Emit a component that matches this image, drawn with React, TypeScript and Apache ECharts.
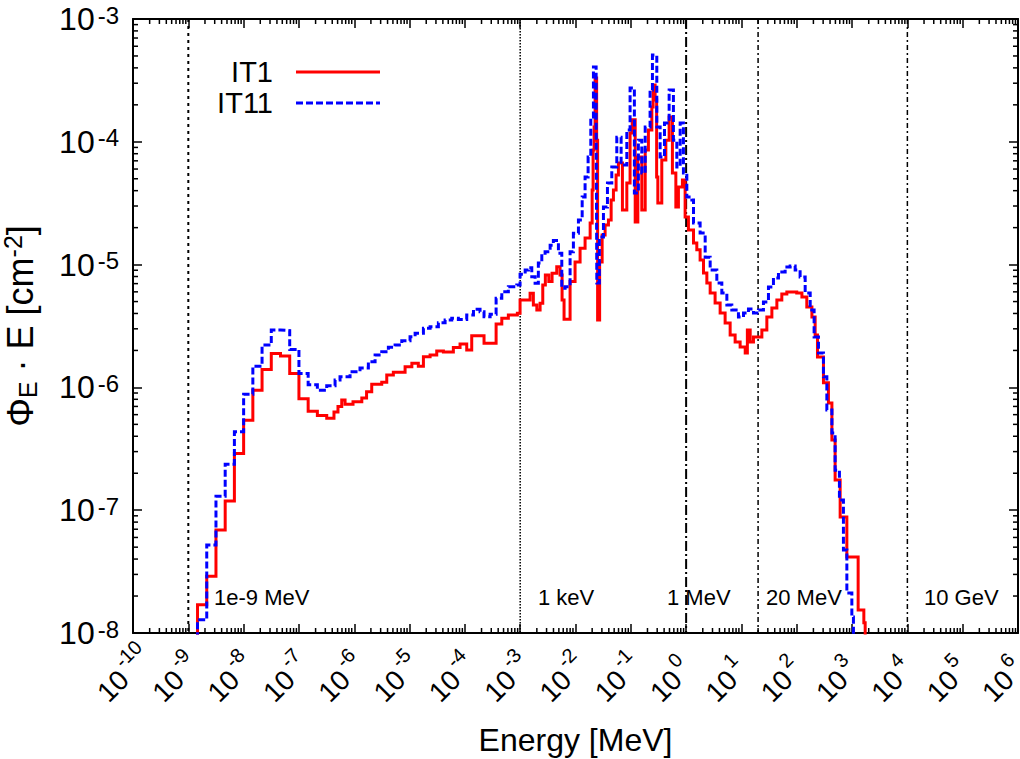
import React, { useEffect, useRef } from "react";
import * as echarts from "echarts";

const FONT = "Liberation Sans";

// ---- data (energy in MeV = lower bin edge, flux Φ_E·E in cm^-2) ----
const energyIT1 = [
  1e-9, 1.468e-9, 2.154e-9, 3.162e-9, 4.642e-9, 6.81e-9,
  1e-8, 1.468e-8, 2.154e-8, 3.162e-8, 4.642e-8, 6.81e-8,
  1e-7, 1.468e-7, 2.154e-7,
  3.18e-7, 4.3e-7, 5.08e-7, 5.94e-7, 6.82e-7, 9.5e-7, 1.37e-6, 1.67e-6, 2.07e-6, 3.14e-6,
  3.87e-6, 5.09e-6, 8.3e-6, 1.1e-5, 1.44e-5, 1.78e-5, 2.35e-5, 3.1e-5, 4.09e-5, 6.19e-5,
  8.18e-5, 1.08e-4, 1.33e-4, 2.22e-4, 3.67e-4, 4.65e-4, 6.11e-4, 8.89e-4, 9.95e-4,
  1.51e-3, 1.73e-3, 2.0e-3, 2.29e-3, 2.56e-3, 2.85e-3, 3.29e-3, 3.77e-3, 4.58e-3, 5.26e-3,
  5.72e-3, 6.21e-3, 7.98e-3, 9.82e-3, 1.21e-2, 1.49e-2, 1.84e-2,
  2.0e-2, 2.08e-2, 2.17e-2, 2.26e-2, 2.41e-2, 2.51e-2, 2.73e-2, 3.03e-2, 3.43e-2, 3.94e-2,
  4.41e-2, 4.85e-2, 5.42e-2, 5.97e-2, 7.05e-2, 8.47e-2, 9.7e-2, 0.106, 0.12, 0.134, 0.158,
  0.182, 0.208, 0.24, 0.253, 0.275, 0.293, 0.308, 0.363, 0.43, 0.493, 0.565, 0.652, 0.726,
  0.857, 0.959,
  1.1, 1.36, 1.56, 1.79, 2.06, 2.37, 2.72, 3.34, 4.12, 5.07, 6.25, 7.69, 9.47, 11.7, 12.8,
  14.4, 16.5, 23.4, 28.8, 35.5, 43.7, 53.7, 66.2, 100, 124, 152, 188, 215, 237, 304, 374,
  432, 494, 609, 805, 1288, 1633, 1726,
];
const fluxIT1 = [
  5e-9, 1.7e-8, 2.9e-8, 6.9e-8, 1.19e-7, 2.9e-7,
  5.4e-7, 9.5e-7, 1.4e-6, 1.89e-6, 1.8e-6, 1.3e-6,
  8.1e-7, 6.4e-7, 5.9e-7,
  5.6e-7, 6.3e-7, 7.0e-7, 7.9e-7, 7.3e-7, 7.65e-7, 8.2e-7, 9.2e-7, 1.06e-6, 1.1e-6,
  1.26e-6, 1.33e-6, 1.47e-6, 1.57e-6, 1.49e-6, 1.78e-6, 1.84e-6, 1.98e-6, 1.94e-6, 2.11e-6,
  2.26e-6, 2.02e-6, 2.64e-6, 2.29e-6, 3.28e-6, 3.66e-6, 3.89e-6, 4.01e-6, 5.15e-6,
  5.85e-6, 4.69e-6, 4.27e-6, 4.84e-6, 6.83e-6, 8.22e-6, 7.27e-6, 8.5e-6, 9.6e-6, 8.22e-6,
  5.15e-6, 3.59e-6, 7.27e-6, 1.05e-5, 1.36e-5, 1.65e-5, 2.18e-5,
  4.05e-5, 8.58e-5, 1.32e-4, 3.31e-4, 1.03e-4, 3.54e-6, 1.05e-5, 1.74e-5, 2.1e-5, 2.31e-5,
  3.36e-5, 4.05e-5, 5.37e-5, 6.72e-5, 2.79e-5, 4.62e-5, 1.18e-4, 1.51e-4, 2.22e-5, 7.52e-5, 2.79e-5,
  8.58e-5, 1.25e-4, 1.92e-4, 2.9e-4, 2.19e-4, 5.17e-5, 3.18e-5, 7.11e-5, 1.03e-4, 1.59e-4, 5.57e-5, 2.94e-5, 4.29e-5,
  4.89e-5, 2.44e-5,
  1.91e-5, 1.5e-5, 1.32e-5, 1.09e-5, 8.55e-6, 7.08e-6, 5.87e-6, 4.87e-6, 4.03e-6, 3.34e-6, 2.67e-6, 2.34e-6, 2.13e-6, 1.91e-6, 2.93e-6,
  2.34e-6, 2.57e-6, 2.93e-6, 3.74e-6, 4.43e-6, 5.15e-6, 5.76e-6, 5.98e-6, 5.87e-6, 5.45e-6, 4.52e-6, 3.74e-6, 2.67e-6, 1.77e-6, 1.09e-6, 7.47e-7,
  3.73e-7, 1.76e-7, 8.81e-8, 4.16e-8, 1.54e-8, 1.21e-8, 5e-9,
];

const energyIT11 = [
  1e-9, 1.468e-9, 2.154e-9, 3.162e-9, 4.642e-9, 6.81e-9,
  1e-8, 1.468e-8, 2.154e-8, 3.162e-8, 4.642e-8, 6.81e-8,
  1e-7, 1.468e-7, 2.154e-7,
  3.18e-7, 4.5e-7, 5.53e-7, 8.4e-7, 1.27e-6, 1.8e-6, 2.38e-6, 3.14e-6, 4.14e-6, 5.47e-6,
  7.23e-6, 1.02e-5, 1.26e-5, 1.78e-5, 2.35e-5, 3.32e-5, 4.39e-5, 5.79e-5, 7.62e-5, 1.08e-4,
  1.43e-4, 1.88e-4, 2.22e-4, 2.86e-4, 3.67e-4, 4.65e-4, 6.11e-4, 8.67e-4, 9.95e-4,
  1.23e-3, 1.41e-3, 1.62e-3, 1.86e-3, 2.13e-3, 2.46e-3, 2.82e-3, 3.48e-3, 3.98e-3, 4.91e-3,
  5.65e-3, 6.49e-3, 7.98e-3, 9.16e-3, 1.13e-2, 1.32e-2, 1.49e-2, 1.69e-2, 1.89e-2, 2.11e-2,
  2.36e-2, 2.43e-2, 2.7e-2, 3.2e-2, 3.78e-2, 4.53e-2, 5.58e-2, 6.68e-2, 8.47e-2, 9.7e-2,
  0.116, 0.137, 0.158, 0.182, 0.223, 0.246, 0.295, 0.339, 0.406, 0.493, 0.589, 0.679, 0.78, 0.894,
  1.03, 1.27, 1.36, 1.79, 2.21, 2.72, 3.59, 4.42, 5.45, 6.7, 8.83, 10.9, 13.4, 16.5, 20.3,
  25.0, 30.8, 37.9, 46.7, 61.7, 76.0, 93.6, 115, 142, 175, 206, 247, 304, 350, 432, 494,
  591, 698, 805, 991, 1059,
];
const fluxIT11 = [
  5e-9, 1.28e-8, 5.2e-8, 1.3e-7, 2.37e-7, 4.36e-7,
  8.8e-7, 1.49e-6, 2.21e-6, 2.93e-6, 2.9e-6, 2.04e-6,
  1.3e-6, 1.05e-6, 9.5e-7,
  1.03e-6, 1.15e-6, 1.22e-6, 1.34e-6, 1.44e-6, 1.62e-6, 1.84e-6, 1.95e-6, 2.12e-6, 2.21e-6,
  2.4e-6, 2.59e-6, 2.76e-6, 3.03e-6, 3.12e-6, 3.36e-6, 3.54e-6, 3.66e-6, 3.58e-6, 3.89e-6,
  4.33e-6, 4.13e-6, 3.77e-6, 3.94e-6, 5.32e-6, 6.02e-6, 6.61e-6, 6.82e-6, 8.34e-6,
  9.04e-6, 9.44e-6, 7.96e-6, 7.05e-6, 1.03e-5, 1.24e-5, 1.27e-5, 1.44e-5, 1.57e-5, 1.24e-5,
  6.41e-6, 6.61e-6, 1.27e-5, 1.8e-5, 2.31e-5, 3.55e-5, 5.17e-5, 7.52e-5, 1.59e-4, 4.07e-4,
  1.59e-4, 7.08e-6, 1.68e-5, 2.94e-5, 4.62e-5, 6.23e-5, 1.09e-4, 6.47e-5, 1.25e-4, 2.74e-4,
  3.83e-5, 1.03e-4, 5.57e-5, 1.32e-4, 2.64e-4, 5.09e-4, 1.32e-4, 7.52e-5, 1.42e-4, 2.64e-4, 1.03e-4, 6.23e-5, 1.42e-4, 5.57e-5,
  3.55e-5, 3.36e-5, 2.18e-5, 1.81e-5, 1.15e-5, 9.04e-6, 7.08e-6, 5.87e-6, 4.69e-6, 4.27e-6, 3.74e-6, 4.03e-6, 4.35e-6, 4.03e-6, 4.27e-6,
  4.96e-6, 6.57e-6, 7.78e-6, 8.71e-6, 9.55e-6, 9.75e-6, 9.04e-6, 7.93e-6, 5.87e-6, 4.27e-6, 2.57e-6, 1.91e-6, 1.22e-6, 6.55e-7, 4.25e-7, 2.12e-7,
  1.21e-7, 4.74e-8, 2.12e-8, 1.35e-8, 5e-9,
];

// x tick labels are 10^k for these exponents
const xTickExponents = [-10, -9, -8, -7, -6, -5, -4, -3, -2, -1, 0, 1, 2, 3, 4, 5, 6];

// reference energies marked with vertical lines (MeV) and their captions
const markEnergies = [1e-9, 1e-3, 1, 20, 1e4];
const markCaptions = ["1e-9 MeV", "1 keV", "1 MeV", "20 MeV", "10 GeV"];
// style of each vertical line (width, dash pattern)
const markStyles = [
  { w: 2, dash: [3, 4] },
  { w: 1.5, dash: [1.5, 1.5] },
  { w: 2, dash: [10, 3, 2, 3] },
  { w: 1.5, dash: [5, 3, 2, 3] },
  { w: 1.5, dash: [5, 3, 2, 3] },
];

// axis ranges
const X_MIN = 1e-10, X_MAX = 1e6;
const Y_MIN = 1e-8, Y_MAX = 1e-3;

function zip(xs: number[], ys: number[]) {
  const n = Math.min(xs.length, ys.length);
  const out: number[][] = [];
  for (let i = 0; i < n; i++) out.push([xs[i], ys[i]]);
  return out;
}

function minorTickValues(minExp: number, maxExp: number) {
  const v: number[] = [];
  for (let e = minExp; e < maxExp; e++) for (let m = 2; m <= 9; m++) v.push(m * Math.pow(10, e));
  return v;
}

const expOf = (v: number) => Math.round(Math.log10(v));

export default function App() {
  const ref = useRef<HTMLDivElement>(null);

  useEffect(() => {
    const chart = echarts.init(ref.current!, null, { renderer: "svg" });

    const axisLineStyle = { lineStyle: { color: "#000", width: 2 } };
    const tickStyle = { show: true, inside: true, length: 9, interval: 0, lineStyle: { color: "#000", width: 1.5 } };

    const xMinor = minorTickValues(-10, 6).map((v) => [v, 1e-5]);
    const yMinor = minorTickValues(-8, -3).map((v) => [1, v]);
    const xLabelData = xTickExponents.map((k) => [Math.pow(10, k), 1e-5]);

    const tickColor = "#000";

    const option: any = {
      animation: false,
      backgroundColor: "#fff",
      textStyle: { fontFamily: FONT },
      grid: { left: 133, right: 2, top: 19, bottom: 126, containLabel: false, outerBoundsMode: "none" },
      xAxis: [
        {
          type: "log", logBase: 10, min: X_MIN, max: X_MAX, splitNumber: 16, interval: 1,
          position: "bottom",
          axisLine: axisLineStyle, axisTick: tickStyle, splitLine: { show: false },
          name: "Energy [MeV]", nameLocation: "middle", nameGap: 91,
          nameTextStyle: { fontSize: 32, fontFamily: FONT, color: "#000" },
          axisLabel: { show: false },
        },
        {
          type: "log", logBase: 10, min: X_MIN, max: X_MAX, splitNumber: 16, interval: 1,
          position: "top",
          axisLine: axisLineStyle, axisTick: tickStyle, axisLabel: { show: false }, splitLine: { show: false },
        },
      ],
      yAxis: [
        {
          type: "log", logBase: 10, min: Y_MIN, max: Y_MAX, splitNumber: 5,
          position: "left",
          axisLine: axisLineStyle, axisTick: tickStyle, splitLine: { show: false },
          name: "{a|Φ}{s|E}{a| · E [cm}{p|-2}{a|]}", nameLocation: "middle", nameGap: 93, nameRotate: 90,
          nameTextStyle: {
            rich: {
              a: { fontSize: 36, lineHeight: 40, fontFamily: FONT, color: "#000" },
              s: { fontSize: 25, lineHeight: 25, fontFamily: FONT, color: "#000", verticalAlign: "bottom" },
              p: { fontSize: 25, lineHeight: 25, fontFamily: FONT, color: "#000", verticalAlign: "top" },
            },
          },
          axisLabel: {
            show: true, margin: 14,
            formatter: (v: number) => `{b|10}{e|${expOf(v)}}`,
            rich: {
              b: { fontSize: 32, lineHeight: 32, fontFamily: FONT, color: "#000", padding: [8, 0, 0, 0], verticalAlign: "bottom" },
              e: { fontSize: 24, lineHeight: 24, fontFamily: FONT, color: "#000", padding: [0, 0, 0, 3], verticalAlign: "top" },
            },
          },
        },
        {
          type: "log", logBase: 10, min: Y_MIN, max: Y_MAX, splitNumber: 5,
          position: "right",
          axisLine: axisLineStyle, axisTick: tickStyle, axisLabel: { show: false }, splitLine: { show: false },
        },
      ],
      series: [
        {
          type: "custom", name: "xminor", silent: true, z: 1,
          data: xMinor,
          renderItem: (params: any, api: any) => {
            const cs = params.coordSys;
            const p = api.coord([api.value(0), api.value(1)]);
            const yb = cs.y + cs.height;
            return {
              type: "group",
              children: [
                { type: "line", shape: { x1: p[0], y1: yb, x2: p[0], y2: yb - 5 }, style: { stroke: tickColor, lineWidth: 1.5 } },
                { type: "line", shape: { x1: p[0], y1: cs.y, x2: p[0], y2: cs.y + 5 }, style: { stroke: tickColor, lineWidth: 1.5 } },
              ],
            };
          },
        },
        {
          type: "custom", name: "yminor", silent: true, z: 1,
          data: yMinor,
          renderItem: (params: any, api: any) => {
            const cs = params.coordSys;
            const p = api.coord([api.value(0), api.value(1)]);
            const xr = cs.x + cs.width;
            return {
              type: "group",
              children: [
                { type: "line", shape: { x1: cs.x, y1: p[1], x2: cs.x + 5, y2: p[1] }, style: { stroke: tickColor, lineWidth: 1.5 } },
                { type: "line", shape: { x1: xr, y1: p[1], x2: xr - 5, y2: p[1] }, style: { stroke: tickColor, lineWidth: 1.5 } },
              ],
            };
          },
        },
        {
          type: "custom", name: "xlabels", silent: true, z: 5,
          data: xLabelData,
          renderItem: (params: any, api: any) => {
            const cs = params.coordSys;
            const p = api.coord([api.value(0), api.value(1)]);
            const yb = cs.y + cs.height;
            const ex = String(expOf(api.value(0)));
            return {
              type: "group", x: p[0] - 20, y: yb + 53, rotation: Math.PI / 4,
              children: [
                { type: "text", x: 0, y: 0, style: { text: "10", fontSize: 28, fontFamily: FONT, fill: "#000", align: "center", verticalAlign: "middle" } },
                { type: "text", x: 19, y: -12, style: { text: ex, fontSize: 20, fontFamily: FONT, fill: "#000", align: "left", verticalAlign: "middle" } },
              ],
            };
          },
        },
        {
          type: "custom", name: "refLines", silent: true, z: 2,
          data: markEnergies.map((e) => [e, 1e-5]),
          renderItem: (params: any, api: any) => {
            const cs = params.coordSys;
            const p = api.coord([api.value(0), api.value(1)]);
            const st = markStyles[params.dataIndex];
            return {
              type: "line",
              shape: { x1: p[0], y1: cs.y, x2: p[0], y2: cs.y + cs.height },
              style: { stroke: "#000", lineWidth: st.w, lineDash: st.dash },
            };
          },
        },
        {
          type: "line", name: "IT1", data: zip(energyIT1, fluxIT1), step: "end",
          symbol: "none", showSymbol: false, clip: true, z: 3,
          lineStyle: { color: "#ff0000", width: 3, join: "miter" }, itemStyle: { color: "#ff0000" },
        },
        {
          type: "line", name: "IT11", data: zip(energyIT11, fluxIT11), step: "end",
          symbol: "none", showSymbol: false, clip: true, z: 4,
          lineStyle: { color: "#0000ff", width: 3, type: [7, 3], join: "miter" }, itemStyle: { color: "#0000ff" },
        },
      ],
      graphic: [
        // legend
        { type: "text", x: 273, y: 72, style: { text: "IT1", align: "right", verticalAlign: "middle", fontSize: 29, fontFamily: FONT, fill: "#000" } },
        { type: "line", shape: { x1: 296, y1: 72, x2: 380, y2: 72 }, style: { stroke: "#ff0000", lineWidth: 3 } },
        { type: "text", x: 273, y: 103, style: { text: "IT11", align: "right", verticalAlign: "middle", fontSize: 29, fontFamily: FONT, fill: "#000" } },
        { type: "line", shape: { x1: 296, y1: 103, x2: 380, y2: 103 }, style: { stroke: "#0000ff", lineWidth: 3, lineDash: [7, 3] } },
        // captions of the marked energies
        { type: "text", x: 214, y: 597, style: { text: markCaptions[0], verticalAlign: "middle", fontSize: 22, fontFamily: FONT, fill: "#000" } },
        { type: "text", x: 538, y: 597, style: { text: markCaptions[1], verticalAlign: "middle", fontSize: 22, fontFamily: FONT, fill: "#000" } },
        { type: "text", x: 667, y: 597, style: { text: markCaptions[2], verticalAlign: "middle", fontSize: 22, fontFamily: FONT, fill: "#000" } },
        { type: "text", x: 766, y: 597, style: { text: markCaptions[3], verticalAlign: "middle", fontSize: 22, fontFamily: FONT, fill: "#000" } },
        { type: "text", x: 924, y: 597, style: { text: markCaptions[4], verticalAlign: "middle", fontSize: 22, fontFamily: FONT, fill: "#000" } },
      ],
    };

    chart.setOption(option);
    return () => chart.dispose();
  }, []);

  return (
    <div
      ref={ref}
      style={{ position: "absolute", left: 0, top: 0, width: 1020, height: 759, background: "#fff" }}
    />
  );
}
